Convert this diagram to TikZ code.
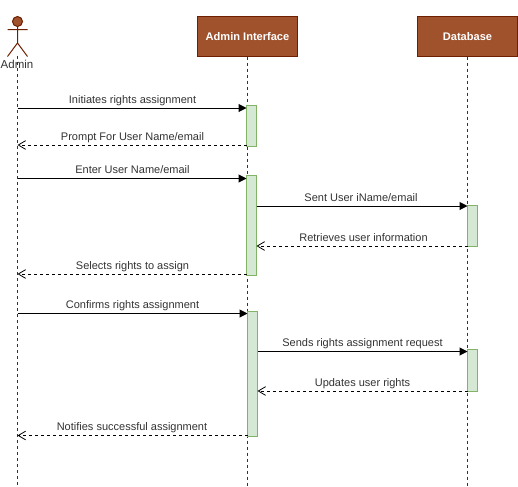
\documentclass[tikz,border=0pt]{standalone}
\usepackage{fontspec}
\setmainfont{Liberation Sans}
\usetikzlibrary{arrows.meta}
\definecolor{brownfill}{HTML}{A0522D}
\definecolor{brownline}{HTML}{6D1F00}
\definecolor{actfill}{HTML}{D5E8D4}
\definecolor{actline}{HTML}{82B366}
\definecolor{txt}{HTML}{333333}
\tikzset{
  x=0.75pt,y=-0.75pt,
  headbox/.style={draw=brownline,fill=brownfill,line width=0.75pt,outer sep=0pt,minimum width=75pt,minimum height=30pt,inner sep=0pt,text=white,font=\fontsize{8.3}{10}\selectfont\bfseries},
  lifeline/.style={draw=brownline,line width=0.75pt,dash pattern=on 2.25pt off 2.25pt},
  actbox/.style={draw=actline,fill=actfill,line width=0.75pt,outer sep=0pt,minimum width=7.5pt,inner sep=0pt,anchor=north west},
  callmsg/.style={draw=black,line width=0.75pt,-{Triangle[length=6pt,width=6pt]}},
  retmsg/.style={draw=black,line width=0.75pt,dash pattern=on 2.25pt off 2.25pt,-{Straight Barb[length=5.5pt,width=6.5pt,line width=0.6pt]}},
  msglabel/.style={font=\fontsize{8.25}{10}\selectfont,text=txt,inner sep=0pt,anchor=base},
  actorline/.style={draw=brownline,line width=0.75pt},
}
\newcommand{\actbar}[4]{\node[actbox,minimum height=#4*0.75pt] (#1) at (#2,#3) {};}
\begin{document}
\begin{tikzpicture}
\useasboundingbox (0,0) rectangle (518,486);
\fill[white] (0,0) rectangle (518,486);
% actor
\node[draw=brownline,fill=brownfill,circle,line width=0.75pt,minimum size=7.5pt,inner sep=0pt] (head) at (17.5,21.5) {};
\coordinate (neck) at (17.5,27);
\coordinate (hip) at (17.5,43);
\coordinate (armL) at (7.5,29.5);
\coordinate (armR) at (27.5,29.5);
\coordinate (footL) at (7.5,56.5);
\coordinate (footR) at (27.5,56.5);
\draw[actorline] (head.south) -- (hip) (armL) -- (armR) (footL) -- (hip) -- (footR);
\node[font=\fontsize{8.6}{10}\selectfont,text=txt,inner sep=0pt,anchor=base] (adminlabel) at (17,68) {Admin};
% heads
\node[headbox] (ai) at (247.5,36.5) {Admin Interface};
\node[headbox] (db) at (467.5,36.5) {Database};
% lifelines
\coordinate (adminTop) at (17.5,56);
\coordinate (adminEnd) at (17.5,486);
\coordinate (aiEnd) at (247.5,486);
\coordinate (dbEnd) at (467.5,486);
\draw[lifeline] (adminTop) -- (adminEnd);
\draw[lifeline] (ai.south) -- (aiEnd);
\draw[lifeline] (db.south) -- (dbEnd);
% activations
\actbar{a1}{246.5}{105.5}{41}
\actbar{a2}{246.5}{175.5}{100}
\actbar{a3}{247.5}{311.5}{125}
\actbar{d1}{467.5}{205.5}{41}
\actbar{d2}{467.5}{349.5}{41.5}
% free ends on Admin lifeline
\coordinate (s1) at (17.5,108);
\coordinate (e1) at (a1.north west |- s1);
\coordinate (s2) at (a1.west |- 0,145);
\coordinate (e2) at (17.5,145);
\coordinate (s3) at (17.5,178.5);
\coordinate (e3) at (a2.north west |- s3);
\coordinate (s4) at (a2.east |- 0,206);
\coordinate (e4) at (d1.west |- s4);
\coordinate (s5) at (d1.west |- 0,246);
\coordinate (e5) at (a2.east |- s5);
\coordinate (s6) at (a2.west |- 0,274);
\coordinate (e6) at (17.5,274);
\coordinate (s7) at (17.5,313.5);
\coordinate (e7) at (a3.west |- s7);
\coordinate (s8) at (a3.east |- 0,351.5);
\coordinate (e8) at (d2.west |- s8);
\coordinate (s9) at (d2.west |- 0,391);
\coordinate (e9) at (a3.east |- s9);
\coordinate (s10) at (a3.west |- 0,435.5);
\coordinate (e10) at (17.5,435.5);
\draw[callmsg] (s1) -- (e1);
\draw[retmsg] (s2) -- (e2);
\draw[callmsg] (s3) -- (e3);
\draw[callmsg] (s4) -- (e4);
\draw[retmsg] (s5) -- (e5);
\draw[retmsg] (s6) -- (e6);
\draw[callmsg] (s7) -- (e7);
\draw[callmsg] (s8) -- (e8);
\draw[retmsg] (s9) -- (e9);
\draw[retmsg] (s10) -- (e10);
% labels
\node[msglabel] (l1) at (132.5,103) {Initiates rights assignment};
\node[msglabel] (l2) at (132.5,140) {Prompt For User Name/email};
\node[msglabel] (l3) at (132.5,173) {Enter User Name/email};
\node[msglabel] (l4) at (361,201) {Sent User iName/email};
\node[msglabel] (l5) at (363.5,241) {Retrieves user information};
\node[msglabel] (l6) at (132.5,269) {Selects rights to assign};
\node[msglabel] (l7) at (132.5,308) {Confirms rights assignment};
\node[msglabel] (l8) at (362.5,346) {Sends rights assignment request};
\node[msglabel] (l9) at (362.5,386) {Updates user rights};
\node[msglabel] (l10) at (132,430) {Notifies successful assignment};
\end{tikzpicture}
\end{document}
